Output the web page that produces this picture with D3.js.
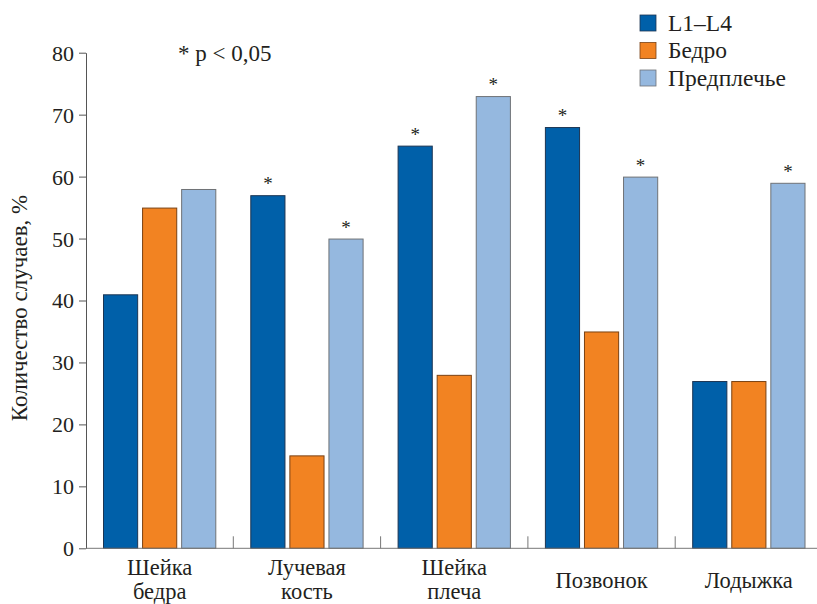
<!DOCTYPE html>
<html>
<head>
<meta charset="utf-8">
<script src="https://cdn.jsdelivr.net/npm/d3@7"></script>
</head>
<body style="margin:0;padding:0;background:#fff">
<svg id="chart" width="817" height="604" style="display:block"></svg>
<script>
// Fracture sites and share of cases (%) by densitometry site
const categories = [["Шейка", "бедра"], ["Лучевая", "кость"], ["Шейка", "плеча"], ["Позвонок"], ["Лодыжка"]];
const seriesNames = ["L1–L4", "Бедро", "Предплечье"];
const valuesL1L4 = [41, 57, 65, 68, 27];
const valuesHip = [55, 15, 28, 35, 27];
const valuesForearm = [58, 50, 73, 60, 59];
// significance markers (* p < 0,05)
const sigL1L4 = [false, true, true, true, false];
const sigHip = [false, false, false, false, false];
const sigForearm = [false, true, true, true, true];
const yTicks = [0, 10, 20, 30, 40, 50, 60, 70, 80];

const FONT = '"Liberation Serif"';
const INK = "#231f20";
const fills = ["#0060a9", "#f28322", "#95b8df"];
const strokes = ["#1c3553", "#7a4214", "#6f7276"];

const seriesValues = [valuesL1L4, valuesHip, valuesForearm];
const seriesSig = [sigL1L4, sigHip, sigForearm];
const catKeys = categories.map(c => c.join(" "));

const svg = d3.select("#chart");

function serif(sel, size) {
  return sel.style("font-family", FONT).style("font-size", size + "px").style("fill", INK);
}

const x0 = d3.scaleBand().domain(catKeys).range([86, 822.5]).paddingInner(0).paddingOuter(0);
const step = x0.bandwidth();
const x1 = d3.scaleBand().domain(seriesNames).range([17, step - 17]).paddingInner(0.1);
const y = d3.scaleLinear().domain([0, 80]).range([548.3, 52.7]);

// bars
const groups = svg.append("g").selectAll("g")
  .data(catKeys)
  .join("g")
  .attr("transform", d => `translate(${x0(d)},0)`);

groups.each(function (cat, ci) {
  const g = d3.select(this);
  seriesNames.forEach((s, si) => {
    const v = seriesValues[si][ci];
    g.append("rect")
      .attr("x", x1(s) + 0.5)
      .attr("y", y(v) + 0.5)
      .attr("width", x1.bandwidth() - 1)
      .attr("height", y(0) - y(v) - 0.5)
      .attr("fill", fills[si])
      .attr("stroke", strokes[si])
      .attr("stroke-width", 1);
    if (seriesSig[si][ci]) {
      serif(g.append("text"), 19)
        .attr("x", x1(s) + x1.bandwidth() / 2)
        .attr("y", y(v) - 5)
        .attr("text-anchor", "middle")
        .text("*");
    }
  });
});

// y axis
const yAxis = d3.axisLeft(y).tickValues(yTicks).tickSize(7).tickSizeOuter(0).tickPadding(5);
const gy = svg.append("g").attr("transform", "translate(86,0)").call(yAxis);
gy.attr("font-family", null).attr("font-size", null);
gy.select(".domain").attr("stroke", "#555");
gy.selectAll(".tick line").attr("stroke", "#555");
serif(gy.selectAll(".tick text"), 22).attr("dy", "0.34em");

// x axis baseline and category separators
svg.append("line")
  .attr("x1", 86).attr("x2", 817)
  .attr("y1", y(0)).attr("y2", y(0))
  .attr("stroke", "#777").attr("stroke-width", 1);

svg.append("g").selectAll("line")
  .data(catKeys.slice(1))
  .join("line")
  .attr("x1", d => x0(d)).attr("x2", d => x0(d))
  .attr("y1", y(0)).attr("y2", y(0) - 12)
  .attr("stroke", "#777").attr("stroke-width", 1);

// category labels, one text per line
const catG = svg.append("g").selectAll("g")
  .data(categories)
  .join("g")
  .attr("transform", (d, i) => `translate(${x0(catKeys[i]) + step / 2},${d.length > 1 ? 575 : 588})`);
catG.each(function (d) {
  const g = d3.select(this);
  d.forEach((line, li) => {
    serif(g.append("text"), 22.5)
      .attr("text-anchor", "middle")
      .attr("y", li * 23.5)
      .text(line);
  });
});

// y axis title
serif(svg.append("text"), 23)
  .attr("transform", "translate(27,308) rotate(-90)")
  .attr("text-anchor", "middle")
  .text("Количество случаев, %");

// significance note
serif(svg.append("text"), 23)
  .attr("x", 178).attr("y", 61)
  .text("* p < 0,05");

// legend
const legend = svg.append("g").selectAll("g")
  .data(seriesNames)
  .join("g")
  .attr("transform", (d, i) => `translate(640,${15 + i * 27.5})`);
legend.append("rect")
  .attr("width", 16).attr("height", 16)
  .attr("fill", (d, i) => fills[i])
  .attr("stroke", (d, i) => strokes[i]).attr("stroke-width", 0.8);
serif(legend.append("text"), 23.5)
  .attr("x", 28).attr("y", 15.5)
  .text(d => d);
</script>
</body>
</html>
